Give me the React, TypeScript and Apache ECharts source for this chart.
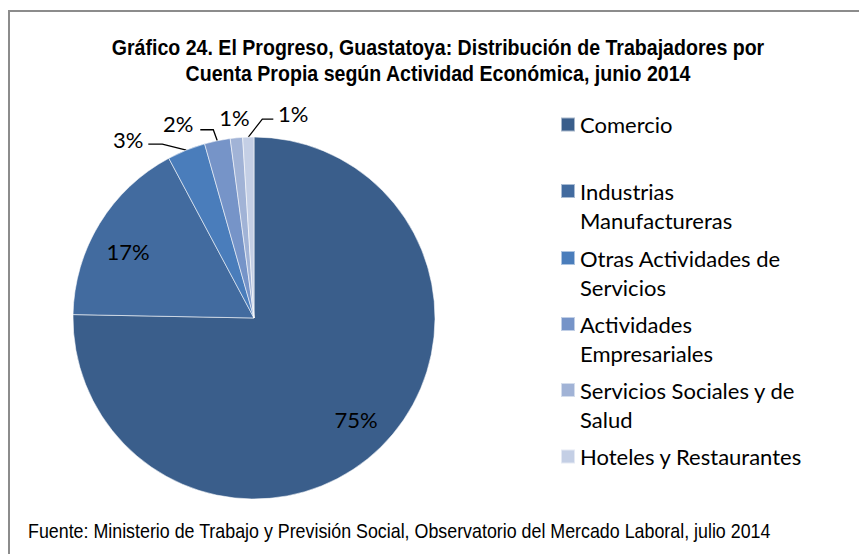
import React, { useEffect, useRef } from "react";
import * as echarts from "echarts";

const categories = [
  "Comercio",
  "Industrias Manufactureras",
  "Otras Actividades de Servicios",
  "Actividades Empresariales",
  "Servicios Sociales y de Salud",
  "Hoteles y Restaurantes",
];
const legendLines = [
  ["Comercio"],
  ["Industrias", "Manufactureras"],
  ["Otras Actividades de", "Servicios"],
  ["Actividades", "Empresariales"],
  ["Servicios Sociales y de", "Salud"],
  ["Hoteles y Restaurantes"],
];
const values = [75.3, 16.9, 3.4, 2.3, 1.1, 1.0];
const colors = ["#3A5E8B", "#426B9F", "#4A7DBB", "#7694C8", "#A1B3D6", "#C4CFE5"];

const titleText =
  "Gráfico 24. El Progreso, Guastatoya: Distribución de Trabajadores por\nCuenta Propia según Actividad Económica, junio 2014";
const sourceText =
  "Fuente: Ministerio de Trabajo y Previsión Social, Observatorio del Mercado Laboral, julio 2014";

const NARROW = "'Liberation Sans Narrow', 'Arial Narrow', 'Liberation Sans', Arial, sans-serif";
const BODY = "Lato, Calibri, Carlito, 'Noto Sans', sans-serif";

const CX = 254;
const CY = 318;
const R = 181;

// label placement style
const insideStyle: Record<number, { frac: number; off: [number, number] }> = {
  0: { frac: 0.79, off: [2, -1] },
  1: { frac: 0.79, off: [-4, 8] },
};
const outsideStyle: Record<number, { label: [number, number]; line?: [number, number][] }> = {
  2: { label: [-58, -11], line: [[-24, -6], [-38, -6]] },
  3: { label: [-39, -17], line: [[-4, -11], [-17, -11]] },
  4: { label: [-2, -20] },
  5: { label: [45, -24], line: [[14, -18], [25, -18]] },
};

function midAngles(): number[] {
  const total = values.reduce((a, b) => a + b, 0);
  let acc = 0;
  return values.map((v) => {
    const start = acc;
    acc += v;
    return ((start + v / 2) / total) * Math.PI * 2; // clockwise from top
  });
}

export default function App() {
  const ref = useRef<HTMLDivElement>(null);
  useEffect(() => {
    if (!ref.current) return;
    const chart = echarts.init(ref.current, null, { renderer: "svg" });
    const mids = midAngles();
    const legendTops = [110, 147.5, 214.5, 280.5, 346.5, 442];
    const legends = categories.map((name, i) => {
      const twoLine = legendLines[i].length > 1;
      return {
        data: [name],
        left: 560,
        top: legendTops[i],
        orient: "vertical",
        icon: "rect",
        itemWidth: 14,
        itemHeight: 14,
        padding: 0,
        selectedMode: false,
        formatter: () => (twoLine ? " \n" : "") + legendLines[i].join("\n"),
        textStyle: {
          fontFamily: BODY,
          fontSize: 22,
          lineHeight: 29,
          color: "#000",
        },
      };
    });
    chart.setOption({
      animation: false,
      backgroundColor: "#fff",
      legend: legends,
      graphic: [
        {
          type: "rect",
          shape: { x: 9, y: 11, width: 900, height: 600 },
          style: { fill: "none", stroke: "#8c8c8c", lineWidth: 2 },
          silent: true,
        },
        {
          type: "text",
          x: 438,
          y: 34,
          scaleX: 0.89,
          style: {
            text: titleText,
            fontFamily: NARROW,
            fontWeight: "bold",
            fontSize: 22,
            lineHeight: 26,
            fill: "#000",
            align: "center",
            verticalAlign: "top",
          },
        },
        {
          type: "text",
          x: 28,
          y: 530,
          scaleX: 0.85,
          style: {
            text: sourceText,
            fontFamily: NARROW,
            fontSize: 21,
            fill: "#000",
            align: "left",
            verticalAlign: "middle",
          },
        },
      ],
      series: [
        {
          type: "pie",
          center: [CX, CY],
          radius: R,
          startAngle: 90,
          clockwise: true,
          avoidLabelOverlap: false,
          itemStyle: { borderColor: "rgba(255,255,255,0.55)", borderWidth: 1 },
          label: {
            show: true,
            position: "outside",
            fontFamily: BODY,
            fontSize: 22,
            color: "#000",
            formatter: (p: any) => Math.round(p.percent) + "%",
          },
          labelLine: { show: true, lineStyle: { color: "#000", width: 1.3 } },
          labelLayout: (p: any) => {
            const i = p.dataIndex;
            const a = mids[i];
            const ins = insideStyle[i];
            if (ins) {
              return {
                x: CX + Math.sin(a) * R * ins.frac + ins.off[0],
                y: CY - Math.cos(a) * R * ins.frac + ins.off[1],
                align: "center",
                verticalAlign: "middle",
              };
            }
            const ex = CX + Math.sin(a) * R;
            const ey = CY - Math.cos(a) * R;
            const st = outsideStyle[i];
            const out: any = {
              x: ex + st.label[0],
              y: ey + st.label[1],
              align: "center",
              verticalAlign: "middle",
            };
            if (st.line) {
              out.labelLinePoints = [[ex, ey], ...st.line.map(([dx, dy]) => [ex + dx, ey + dy])];
            }
            return out;
          },
          data: categories.map((name, i) => ({
            name,
            value: values[i],
            itemStyle: { color: colors[i] },
            labelLine: { show: !!(outsideStyle[i] && outsideStyle[i].line) },
          })),
        },
      ],
    });
    return () => chart.dispose();
  }, []);
  return (
    <div
      ref={ref}
      style={{ position: "absolute", left: 0, top: 0, width: 859, height: 554 }}
    />
  );
}
